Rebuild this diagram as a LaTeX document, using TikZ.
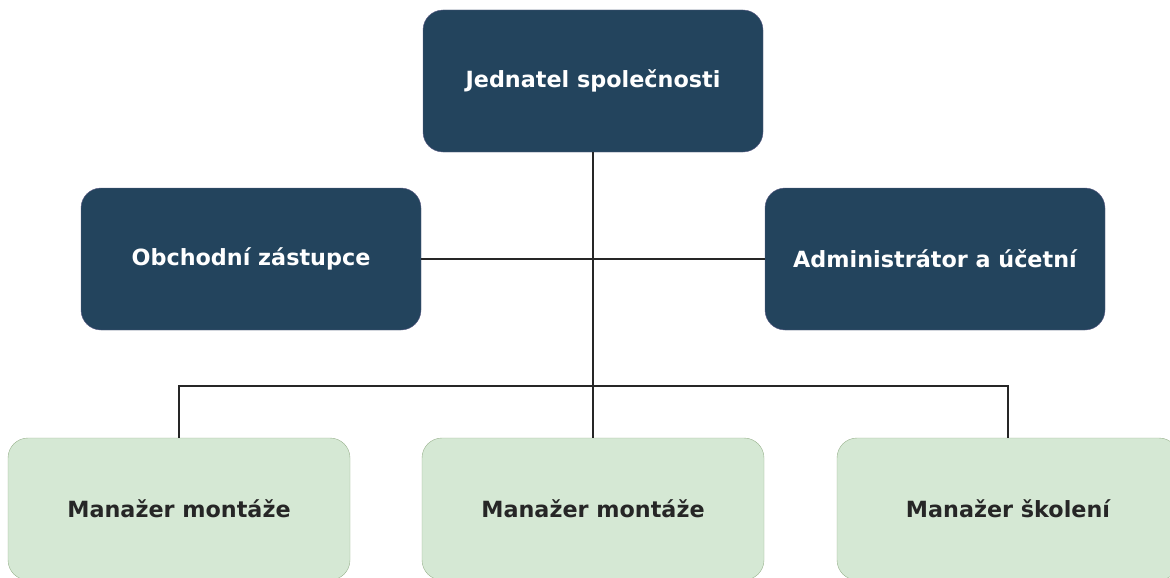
\documentclass[tikz,border=0pt]{standalone}
\usepackage{fontspec}
\setmainfont{DejaVu Sans}
\begin{document}
\begin{tikzpicture}[x=1pt,y=-1pt,
  darkbox/.style={draw=black!35!blue!25!gray, fill=dbl, rounded corners=20pt, minimum width=340pt, minimum height=142pt, inner sep=0pt, text=white, font=\fontsize{22.3}{26}\selectfont\bfseries},
  greenbox/.style={draw=gbd, fill=gfl, rounded corners=20pt, minimum width=342pt, minimum height=142pt, inner sep=0pt, text=black!85, font=\fontsize{22.3}{26}\selectfont\bfseries},
  conn/.style={draw=black!85, line width=1.3pt}]
\definecolor{dbl}{HTML}{23445D}
\definecolor{gfl}{HTML}{D5E8D4}
\definecolor{gbd}{HTML}{9AB38F}
\useasboundingbox (0,0) rectangle (1170,578);
\clip (0,0) rectangle (1170,578);
\fill[white] (0,0) rectangle (1170,578);
\node[darkbox] (top) at (593,81) {Jednatel společnosti};
\node[darkbox] (left) at (251,259) {Obchodní zástupce};
\node[darkbox] (right) at (935,259) {Administrátor a účetní};
\node[greenbox] (b1) at (179,509) {Manažer montáže};
\node[greenbox] (b2) at (593,509) {Manažer montáže};
\node[greenbox] (b3) at (1008,509) {Manažer školení};
\coordinate (bar) at (593,386);
\draw[conn] (top.south) -- (b2.north);
\draw[conn] (left.east) -- (right.west);
\draw[conn] (b1.north) |- (bar) -| (b3.north);
\end{tikzpicture}
\end{document}
